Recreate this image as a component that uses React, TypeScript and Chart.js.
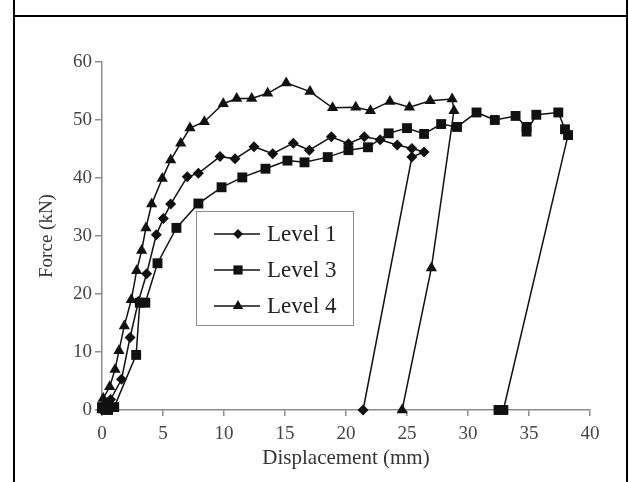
import React, { useEffect, useRef } from 'react';
import { Chart, registerables } from 'chart.js';

Chart.register(...registerables);

// Level 1 (diamonds)
const level1X = [0, 0.1, 0.4, 0.7, 1.6, 2.3, 2.98, 3.66, 4.45, 5.03, 5.63, 6.99, 7.9, 9.67, 10.9, 12.46, 13.99, 15.68, 17.0, 18.8, 20.2, 21.5, 22.8, 24.2, 25.4, 26.4, 25.4, 21.4];
const level1Y = [0, 0.3, 1.2, 1.8, 5.3, 12.5, 18.7, 23.5, 30.2, 33.0, 35.5, 40.2, 40.8, 43.7, 43.3, 45.4, 44.2, 46.0, 44.8, 47.1, 45.9, 47.1, 46.6, 45.7, 45.1, 44.5, 43.6, 0];

// Level 3 (squares)
const level3X = [0, 0.5, 1.0, 2.8, 3.1, 3.55, 4.55, 6.1, 7.9, 9.8, 11.5, 13.4, 15.2, 16.6, 18.5, 20.2, 21.8, 23.5, 25.0, 26.4, 27.8, 29.1, 30.7, 32.2, 33.9, 34.8, 34.8, 35.6, 37.4, 37.95, 38.2, 32.9, 32.5];
const level3Y = [0.5, 0, 0.5, 9.5, 18.5, 18.5, 25.3, 31.4, 35.6, 38.4, 40.1, 41.6, 43.0, 42.7, 43.6, 44.8, 45.3, 47.7, 48.6, 47.6, 49.3, 48.8, 51.3, 50.0, 50.7, 48.8, 48.0, 50.9, 51.3, 48.4, 47.4, 0, 0];

// Level 4 (triangles)
const level4X = [0, 0.1, 0.63, 1.07, 1.39, 1.83, 2.4, 2.84, 3.25, 3.6, 4.07, 4.94, 5.63, 6.45, 7.21, 8.39, 9.94, 11.04, 12.27, 13.58, 15.1, 17.05, 18.9, 20.8, 22.0, 23.6, 25.2, 26.9, 28.7, 28.85, 27.0, 24.6];
const level4Y = [0, 2.0, 4.0, 7.0, 10.2, 14.5, 19.0, 24.0, 27.5, 31.4, 35.5, 39.9, 43.1, 46.0, 48.6, 49.7, 52.8, 53.7, 53.7, 54.6, 56.4, 54.9, 52.1, 52.2, 51.6, 53.2, 52.2, 53.3, 53.6, 51.6, 24.5, 0];

const xTicks = [0, 5, 10, 15, 20, 25, 30, 35, 40];
const yTicks = [0, 10, 20, 30, 40, 50, 60];

const seriesLabels = ['Level 1', 'Level 3', 'Level 4'];

const serif = '"Liberation Serif", "DejaVu Serif", serif';

const toPoints = (xs: number[], ys: number[]) => xs.map((x, i) => ({ x, y: ys[i] }));

function drawMarker(ctx: CanvasRenderingContext2D, style: string, x: number, y: number, r: number) {
  ctx.beginPath();
  if (style === 'rectRot') {
    ctx.moveTo(x, y - r);
    ctx.lineTo(x + r, y);
    ctx.lineTo(x, y + r);
    ctx.lineTo(x - r, y);
  } else if (style === 'rect') {
    const s = r * Math.SQRT1_2;
    ctx.rect(x - s, y - s, 2 * s, 2 * s);
  } else {
    const dx = Math.cos(Math.PI / 6) * r;
    ctx.moveTo(x, y - r);
    ctx.lineTo(x + dx, y + r / 2);
    ctx.lineTo(x - dx, y + r / 2);
  }
  ctx.closePath();
  ctx.fill();
}

const boxLegend = {
  id: 'boxLegend',
  afterDatasetsDraw(chart: any) {
    const { ctx } = chart;
    ctx.save();
    ctx.strokeStyle = '#8c8c8c';
    ctx.lineWidth = 1;
    ctx.strokeRect(196.5, 211.5, 157, 114);
    chart.data.datasets.forEach((ds: any, i: number) => {
      const y = 234 + i * 36;
      ctx.strokeStyle = '#111';
      ctx.lineWidth = 1.5;
      ctx.beginPath();
      ctx.moveTo(214, y);
      ctx.lineTo(260, y);
      ctx.stroke();
      ctx.fillStyle = '#111';
      drawMarker(ctx, ds.pointStyle, 238, y, ds.pointRadius - 0.5);
      ctx.fillStyle = '#222';
      ctx.font = `23px ${serif}`;
      ctx.textBaseline = 'middle';
      ctx.textAlign = 'left';
      ctx.fillText(ds.label, 267, y + 1);
    });
    ctx.restore();
  },
};

const App: React.FC = () => {
  const chartRef = useRef<HTMLCanvasElement | null>(null);
  const chartInstance = useRef<Chart | null>(null);

  useEffect(() => {
    if (!chartRef.current) return;
    if (chartInstance.current) chartInstance.current.destroy();

    const common = {
      showLine: true,
      borderColor: '#111',
      backgroundColor: '#111',
      pointBackgroundColor: '#111',
      pointBorderColor: '#111',
      pointBorderWidth: 0,
      borderWidth: 1.5,
      tension: 0,
      clip: false as const,
    };

    chartInstance.current = new Chart(chartRef.current, {
      type: 'scatter',
      data: {
        datasets: [
          { ...common, label: seriesLabels[0], data: toPoints(level1X, level1Y), pointStyle: 'rectRot', pointRadius: 5.5 },
          { ...common, label: seriesLabels[1], data: toPoints(level3X, level3Y), pointStyle: 'rect', pointRadius: 7 },
          { ...common, label: seriesLabels[2], data: toPoints(level4X, level4Y), pointStyle: 'triangle', pointRadius: 6.5 },
        ],
      },
      options: {
        animation: false,
        responsive: false,
        maintainAspectRatio: false,
        layout: { padding: { left: 0, right: 39, top: 62, bottom: 0 } },
        plugins: {
          legend: { display: false },
          tooltip: { enabled: false },
        },
        scales: {
          x: {
            type: 'linear',
            min: 0,
            max: 40,
            afterBuildTicks: (scale: any) => {
              scale.ticks = xTicks.map(v => ({ value: v }));
            },
            afterFit: (scale: any) => {
              scale.height = 72;
            },
            ticks: { color: '#444', font: { family: serif, size: 19 }, padding: 7 },
            grid: { drawOnChartArea: false, drawTicks: true, tickLength: 6, color: '#8c8c8c', lineWidth: 1.5 },
            border: { color: '#8c8c8c', width: 1.5 },
            title: {
              display: true,
              text: 'Displacement (mm)',
              color: '#333',
              font: { family: serif, size: 21 },
              padding: { top: 0, bottom: 11 },
            },
          },
          y: {
            type: 'linear',
            min: 0,
            max: 60,
            afterBuildTicks: (scale: any) => {
              scale.ticks = yTicks.map(v => ({ value: v }));
            },
            afterFit: (scale: any) => {
              scale.width = 102;
            },
            ticks: { color: '#444', font: { family: serif, size: 19 }, padding: 3 },
            grid: { drawOnChartArea: false, drawTicks: true, tickLength: 7, color: '#8c8c8c', lineWidth: 1.5 },
            border: { color: '#8c8c8c', width: 1.5 },
            title: {
              display: true,
              text: 'Force (kN)',
              color: '#333',
              font: { family: serif, size: 19 },
              padding: { top: 36, bottom: 0 },
            },
          },
        },
      },
      plugins: [boxLegend],
    });

    return () => {
      if (chartInstance.current) {
        chartInstance.current.destroy();
        chartInstance.current = null;
      }
    };
  }, []);

  return (
    <div style={{ position: 'fixed', left: 0, top: 0, width: 629, height: 482, background: '#fff', overflow: 'hidden' }}>
      <div style={{ position: 'absolute', left: 13, top: 0, width: 2, height: 482, background: '#000' }} />
      <div style={{ position: 'absolute', left: 626, top: 0, width: 2, height: 482, background: '#000' }} />
      <div style={{ position: 'absolute', left: 13, top: 15, width: 615, height: 2, background: '#000' }} />
      <canvas ref={chartRef} width={629} height={482} style={{ position: 'absolute', left: 0, top: 0, width: 629, height: 482 }} />
    </div>
  );
};

export default App;
